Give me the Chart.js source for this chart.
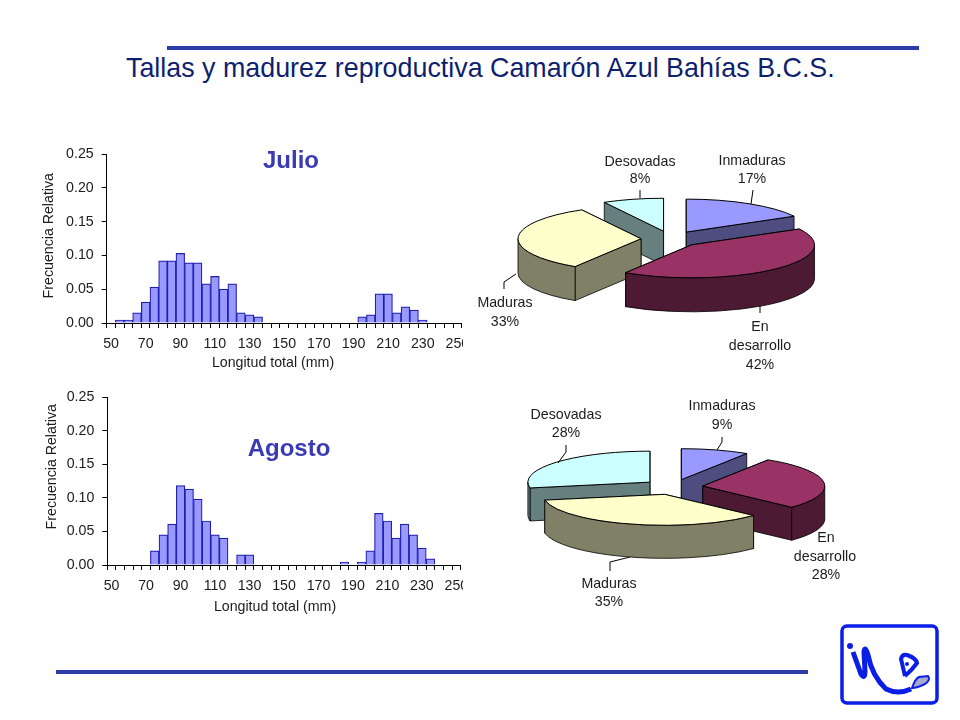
<!DOCTYPE html>
<html>
<head>
<meta charset="utf-8">
<title>Tallas y madurez reproductiva</title>
<script src="https://cdn.jsdelivr.net/npm/chart.js@4/dist/chart.umd.min.js"></script>
<style>
    html, body { margin: 0; padding: 0; background: #fff; }
    #slide { position: relative; width: 960px; height: 720px; overflow: hidden; font-family: 'Liberation Sans', Arial, sans-serif; }
    #slide canvas { position: absolute; }
    #title { position: absolute; left: 126px; top: 53px; font-size: 26.85px; color: #0f1f6e; white-space: nowrap; }
    .rule { position: absolute; height: 4px; background: #2b3ca6; }
    #logo { position: absolute; left: 830px; top: 615px; }
</style>
</head>
<body>
<div id="slide">
    <div class="rule" style="left:167px; top:46px; width:752px"></div>
    <div id="title">Tallas y madurez reproductiva Camarón Azul Bahías B.C.S.</div>
    <div class="rule" style="left:56px; top:670px; width:752px"></div>

    <canvas id="bar-julio"></canvas>
    <canvas id="bar-agosto"></canvas>
    <canvas id="pie-julio"></canvas>
    <canvas id="pie-agosto"></canvas>

    <svg id="logo" width="120" height="100" viewBox="830 615 120 100" fill="none" stroke="#0a1ee6">
        <rect x="842" y="626" width="95" height="77" rx="5" stroke-width="3.5"/>
        <circle cx="850" cy="646" r="3" fill="#0a1ee6" stroke="none"/>
        <path d="M853 652 L861 674 Q865 680 865 671 L864 652 Q865 645 868 655 Q872 676 886 689 Q898 695 911 689" stroke-width="5"/>
        <path d="M905 676 L901 659 Q902 654 907 655 Q916 658 917 663 Q912 670 905 676" stroke-width="4"/>
        <circle cx="907" cy="664" r="2" fill="#0a1ee6" stroke="none"/>
        <path d="M912 688 Q915 679 919 677 L928 676 Q931 680 925 684 Q917 688 912 688 Z" fill="#a8a8cc" stroke-width="2"/>
    </svg>
</div>

<script>
    // longitud total, bins of 5 mm
    const lengthBins = ['50', '55', '60', '65', '70', '75', '80', '85', '90', '95', '100', '105', '110', '115',
        '120', '125', '130', '135', '140', '145', '150', '155', '160', '165', '170', '175', '180', '185',
        '190', '195', '200', '205', '210', '215', '220', '225', '230', '235', '240', '245', '250'];

    const julioFreq = [0, 0.0045, 0.0045, 0.015, 0.031, 0.053, 0.092, 0.092, 0.103, 0.089, 0.089, 0.058, 0.069, 0.05,
        0.058, 0.015, 0.012, 0.009, 0, 0, 0, 0, 0, 0, 0, 0, 0, 0,
        0, 0.009, 0.012, 0.043, 0.043, 0.015, 0.024, 0.019, 0.0045, 0, 0, 0, 0];

    const agostoFreq = [0, 0, 0, 0, 0, 0.021, 0.045, 0.061, 0.118, 0.113, 0.098, 0.0655, 0.045, 0.04,
        0, 0.015, 0.015, 0, 0, 0, 0, 0, 0, 0, 0, 0, 0, 0.0045,
        0, 0.0045, 0.021, 0.077, 0.0655, 0.04, 0.061, 0.045, 0.025, 0.009, 0, 0, 0];

    const stageNames = ['Inmaduras', 'En desarrollo', 'Maduras', 'Desovadas'];
    const julioStages = [17, 42, 33, 8];
    const agostoStages = [9, 28, 35, 28];

    const sliceColors = ['#9999ff', '#993366', '#ffffcc', '#ccffff'];
    const wallColors = ['#4d4d80', '#4d1a33', '#808066', '#668080'];

    const FONT = "'Liberation Sans', Arial, sans-serif";
    const LABEL_SIZE = 14.2;
    const LABEL_FONT = LABEL_SIZE + 'px ' + FONT;
    const HEADING_FONT = 'bold 24px ' + FONT;
    const HEADING_COLOR = '#3a3ab4';
    const TEXT_COLOR = '#1c1c1c';

    // writes free text and leader lines, given in page pixels
    const notesPlugin = {
        id: 'notes',
        afterDraw(chart, args, opts) {
            const ctx = chart.ctx;
            const box = chart.canvas;
            const originX = parseFloat(box.style.left);
            const originY = parseFloat(box.style.top);
            ctx.save();
            ctx.translate(-originX, -originY);
            ctx.strokeStyle = '#000';
            ctx.lineWidth = 1;
            (opts.lines || []).forEach(points => {
                ctx.beginPath();
                points.forEach((p, i) => i ? ctx.lineTo(p[0], p[1]) : ctx.moveTo(p[0], p[1]));
                ctx.stroke();
            });
            ctx.textAlign = 'center';
            ctx.textBaseline = 'middle';
            (opts.texts || []).forEach(t => {
                ctx.save();
                ctx.translate(t.x, t.y);
                if (t.vertical) ctx.rotate(-Math.PI / 2);
                ctx.font = t.font || LABEL_FONT;
                ctx.fillStyle = t.color || TEXT_COLOR;
                ctx.fillText(t.text, 0, 0);
                ctx.restore();
            });
            ctx.restore();
        }
    };

    // gives the flat pie its exploded, tilted, extruded look
    const tiltPlugin = {
        id: 'tilt',
        afterDatasetsUpdate(chart, args, opts) {
            chart.getDatasetMeta(0).data.forEach(arc => {
                const mid = (arc.startAngle + arc.endAngle) / 2;
                arc.x += opts.explode * Math.cos(mid);
                arc.y += opts.explode * Math.sin(mid);
            });
        },
        beforeDatasetsDraw(chart, args, opts) {
            const ctx = chart.ctx;
            const cy = (chart.chartArea.top + chart.chartArea.bottom) / 2;
            const arcs = chart.getDatasetMeta(0).data.map((arc, i) => ({ arc, i }));
            // back slices first
            arcs.sort((a, b) => flatY(a.arc) - flatY(b.arc));
            ctx.save();
            ctx.lineWidth = 0.8;
            ctx.strokeStyle = '#000';
            arcs.forEach(({ arc, i }) => {
                ctx.fillStyle = wallColors[i];
                const apexY = cy + (arc.y - cy) * opts.ratio;
                const r = arc.outerRadius;
                const edges = [arc.startAngle, arc.endAngle].sort((p, q) => Math.sin(p) - Math.sin(q));
                edges.forEach(t => {
                    const ex = arc.x + r * Math.cos(t);
                    const ey = apexY + r * opts.ratio * Math.sin(t);
                    ctx.beginPath();
                    ctx.moveTo(arc.x, apexY);
                    ctx.lineTo(ex, ey);
                    ctx.lineTo(ex, ey + opts.depth);
                    ctx.lineTo(arc.x, apexY + opts.depth);
                    ctx.closePath();
                    ctx.fill();
                    ctx.stroke();
                });
                const from = Math.max(arc.startAngle, 0);
                const to = Math.min(arc.endAngle, Math.PI);
                if (to > from) {
                    ctx.beginPath();
                    ctx.ellipse(arc.x, apexY, r, r * opts.ratio, 0, from, to);
                    ctx.ellipse(arc.x, apexY + opts.depth, r, r * opts.ratio, 0, to, from, true);
                    ctx.closePath();
                    ctx.fill();
                    ctx.stroke();
                }
            });
            ctx.restore();

            // the library fills the slice tops inside this squeeze
            ctx.save();
            ctx.translate(0, cy);
            ctx.scale(1, opts.ratio);
            ctx.translate(0, -cy);
        },
        afterDatasetsDraw(chart, args, opts) {
            const ctx = chart.ctx;
            ctx.restore();
            const cy = (chart.chartArea.top + chart.chartArea.bottom) / 2;
            ctx.save();
            ctx.lineWidth = 1;
            ctx.strokeStyle = '#000';
            chart.getDatasetMeta(0).data.forEach(arc => {
                const apexY = cy + (arc.y - cy) * opts.ratio;
                ctx.beginPath();
                ctx.moveTo(arc.x, apexY);
                ctx.ellipse(arc.x, apexY, arc.outerRadius, arc.outerRadius * opts.ratio, 0, arc.startAngle, arc.endAngle);
                ctx.closePath();
                ctx.stroke();
            });
            ctx.restore();
        }
    };

    function flatY(arc) {
        return Math.sin((arc.startAngle + arc.endAngle) / 2);
    }

    function placeCanvas(id, left, top, width, height) {
        const canvas = document.getElementById(id);
        canvas.width = width;
        canvas.height = height;
        canvas.style.left = left + 'px';
        canvas.style.top = top + 'px';
        canvas.style.width = width + 'px';
        canvas.style.height = height + 'px';
        return canvas;
    }

    function drawHistogram(id, values, plot, notes) {
        const left = 30, top = plot.top - 14, width = 433, height = 235;
        const canvas = placeCanvas(id, left, top, width, height);
        new Chart(canvas, {
            type: 'bar',
            data: {
                labels: lengthBins,
                datasets: [{
                    label: 'Frecuencia Relativa',
                    data: values,
                    backgroundColor: '#9999ff',
                    borderColor: '#1f1fb0',
                    borderWidth: 1.2,
                    barPercentage: 1,
                    categoryPercentage: 1
                }]
            },
            plugins: [notesPlugin],
            options: {
                responsive: false,
                animation: false,
                events: [],
                layout: { padding: { top: plot.top - top, right: left + width - plot.right, left: 0, bottom: 0 } },
                plugins: { legend: { display: false }, tooltip: { enabled: false }, notes: notes },
                scales: {
                    x: {
                        grid: { offset: true, drawOnChartArea: false, tickLength: 5, tickColor: '#000' },
                        border: { color: '#000', width: 1, z: 2 },
                        ticks: {
                            autoSkip: false,
                            maxRotation: 0,
                            minRotation: 0,
                            padding: 8,
                            color: TEXT_COLOR,
                            font: { family: FONT, size: LABEL_SIZE },
                            callback: (value, index) => index % 4 === 0 ? lengthBins[index] : ''
                        },
                        afterFit: scale => {
                            scale.height = top + height - plot.bottom;
                            scale.paddingLeft = 0;
                            scale.paddingRight = 0;
                        }
                    },
                    y: {
                        min: 0,
                        max: 0.25,
                        grid: { drawOnChartArea: false, tickLength: 5, tickColor: '#000' },
                        border: { color: '#000', width: 1 },
                        ticks: {
                            stepSize: 0.05,
                            padding: 8,
                            color: TEXT_COLOR,
                            font: { family: FONT, size: LABEL_SIZE },
                            callback: value => value.toFixed(2)
                        },
                        afterFit: scale => {
                            scale.width = plot.left - left;
                            scale.paddingTop = 0;
                            scale.paddingBottom = 0;
                        }
                    }
                }
            }
        });
    }

    function drawPie(id, values, shape, notes) {
        const canvas = placeCanvas(id, shape.cx - 205, shape.cy - shape.halfHeight, 410, shape.halfHeight * 2);
        new Chart(canvas, {
            type: 'pie',
            data: {
                labels: stageNames,
                datasets: [{
                    data: values,
                    backgroundColor: sliceColors,
                    borderWidth: 0,
                    radius: shape.radius,
                    clip: false
                }]
            },
            plugins: [tiltPlugin, notesPlugin],
            options: {
                responsive: false,
                animation: false,
                events: [],
                plugins: {
                    legend: { display: false },
                    tooltip: { enabled: false },
                    tilt: { ratio: shape.ratio, depth: shape.depth, explode: shape.explode },
                    notes: notes
                }
            }
        });
    }

    drawHistogram('bar-julio', julioFreq, { left: 106.7, right: 461.7, top: 154.3, bottom: 323.3 }, {
        texts: [
            { text: 'Frecuencia Relativa', x: 49, y: 236, vertical: true },
            { text: 'Longitud total (mm)', x: 273, y: 363 },
            { text: 'Julio', x: 291, y: 162, font: HEADING_FONT, color: HEADING_COLOR }
        ]
    });

    drawHistogram('bar-agosto', agostoFreq, { left: 107.3, right: 460.7, top: 397.3, bottom: 565.3 }, {
        texts: [
            { text: 'Frecuencia Relativa', x: 52, y: 467, vertical: true },
            { text: 'Longitud total (mm)', x: 275, y: 607 },
            { text: 'Agosto', x: 289, y: 449.5, font: HEADING_FONT, color: HEADING_COLOR }
        ]
    });

    drawPie('pie-julio', julioStages, { cx: 671, cy: 239, halfHeight: 136, radius: 123, ratio: 0.268, depth: 34, explode: 30 }, {
        lines: [
            [[640, 190], [640, 198]],
            [[753, 190], [751, 204]],
            [[504, 289], [504, 282], [516, 274]],
            [[760, 306], [760, 313]]
        ],
        texts: [
            { text: 'Desovadas', x: 640, y: 162 },
            { text: '8%', x: 640, y: 179 },
            { text: 'Inmaduras', x: 752, y: 161 },
            { text: '17%', x: 752, y: 179 },
            { text: 'Maduras', x: 505, y: 303 },
            { text: '33%', x: 505, y: 322 },
            { text: 'En', x: 760, y: 327 },
            { text: 'desarrollo', x: 760, y: 346 },
            { text: '42%', x: 760, y: 365 }
        ]
    });

    drawPie('pie-agosto', agostoStages, { cx: 673, cy: 487, halfHeight: 125, radius: 122, ratio: 0.254, depth: 33, explode: 30 }, {
        lines: [
            [[566, 445], [566, 452], [558, 463]],
            [[722, 437], [722, 442], [717, 450]],
            [[610, 571], [610, 562], [630, 557]]
        ],
        texts: [
            { text: 'Desovadas', x: 566, y: 415 },
            { text: '28%', x: 566, y: 433 },
            { text: 'Inmaduras', x: 722, y: 406 },
            { text: '9%', x: 722, y: 425 },
            { text: 'Maduras', x: 609, y: 584 },
            { text: '35%', x: 609, y: 602 },
            { text: 'En', x: 826, y: 538 },
            { text: 'desarrollo', x: 825, y: 557 },
            { text: '28%', x: 826, y: 575 }
        ]
    });
</script>
</body>
</html>
